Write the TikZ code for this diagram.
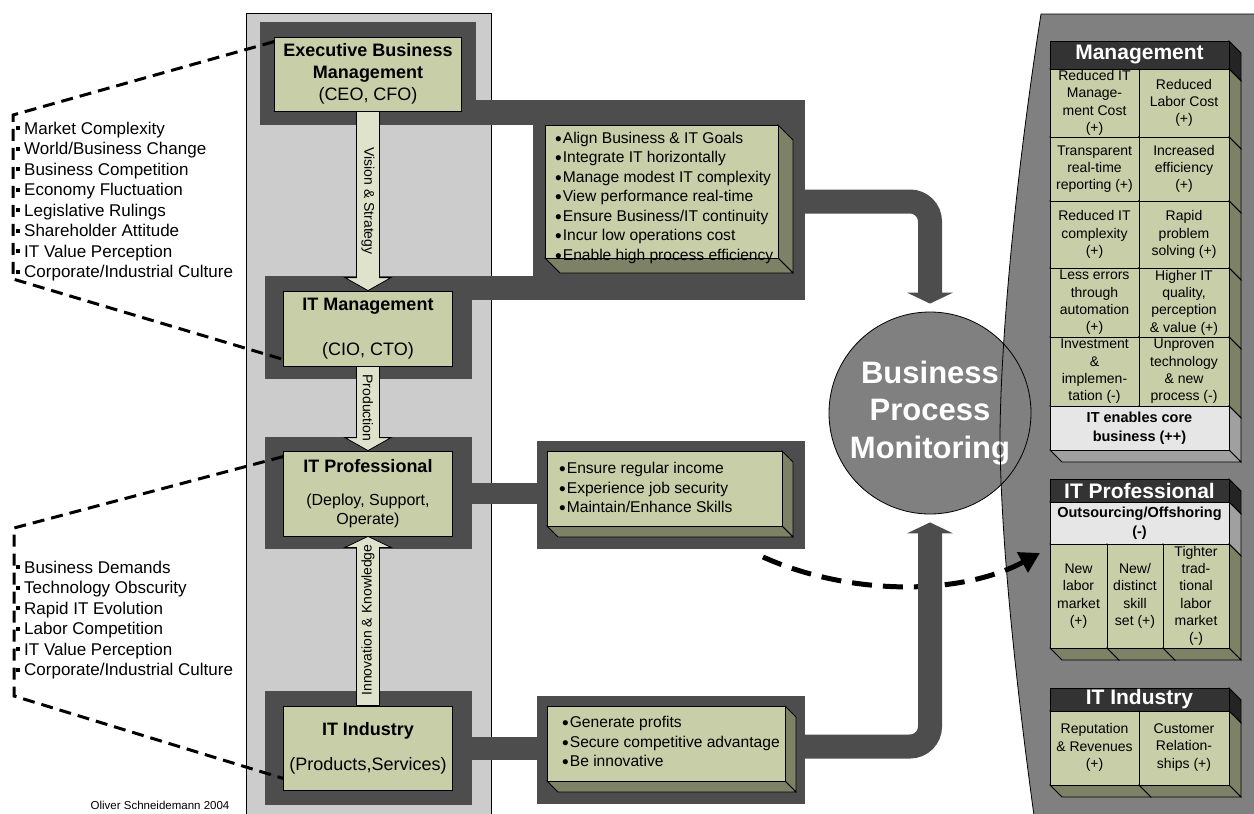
\documentclass[tikz,border=0pt]{standalone}
\usepackage{fontspec}
\setmainfont{Liberation Sans}
\usetikzlibrary{arrows.meta}

\definecolor{panelgray}{RGB}{204,204,204}
\definecolor{framedark}{RGB}{77,77,77}
\definecolor{facegreen}{RGB}{200,206,168}
\definecolor{sidegreen}{RGB}{125,130,103}
\definecolor{arrowfill}{RGB}{223,227,204}
\definecolor{hubgray}{RGB}{128,128,128}
\definecolor{headdark}{RGB}{51,51,51}
\definecolor{headside}{RGB}{36,36,36}
\definecolor{palegray}{RGB}{230,230,230}
\definecolor{paleside}{RGB}{160,160,160}

\newcommand{\fsz}[2]{\fontsize{#1}{#2}\selectfont}
\newcommand{\dotb}{\raisebox{-2pt}{\fsz{19}{15}\textbullet}\hspace{1pt}}
\newcommand{\sqb}{\rule[4pt]{4pt}{4pt}\hspace{4pt}}
% extruded box: x1 y1 x2 y2 depth face-colour side-colour
\newcommand{\slab}[7]{%
  \filldraw[fill=#7,draw=black,line width=0.8pt] (#3,#2) -- (#3+#5,#2+#5) -- (#3+#5,#4+#5) -- (#3,#4) -- cycle;
  \filldraw[fill=#7,draw=black,line width=0.8pt] (#1,#4) -- (#3,#4) -- (#3+#5,#4+#5) -- (#1+#5,#4+#5) -- cycle;
  \filldraw[fill=#6,draw=black,line width=0.8pt] (#1,#2) rectangle (#3,#4);}

\tikzset{
  rolebox/.style={draw=black, line width=0.8pt, fill=facegreen, inner sep=0pt, align=center},
  framebox/.style={fill=framedark, inner sep=0pt},
  linkband/.style={draw=framedark, line width=24pt, line cap=butt},
  flowarrow/.style={draw=black, line width=0.8pt, fill=arrowfill, line join=miter},
  bracket/.style={draw=black, line width=3pt, dash pattern=on 12pt off 7pt, line join=miter},
  listtext/.style={inner sep=0pt, align=left, anchor=west, font=\fsz{17}{20.5}},
  bultext/.style={inner sep=0pt, align=left, anchor=west, font=\fsz{15.6}{19.5}},
  vlabel/.style={inner sep=0pt, font=\fsz{14}{16}},
  headtext/.style={inner sep=0pt, text=white, font=\bfseries\fsz{21}{24}},
  celltext/.style={inner sep=0pt, align=center, font=\fsz{14}{17.3}},
  boldcell/.style={inner sep=0pt, align=center, font=\bfseries\fsz{14.5}{19}},
}

\begin{document}
\begin{tikzpicture}[x=1pt,y=-1pt,line join=miter]
\useasboundingbox (0,0) rectangle (1254,814);
\clip (0,0) rectangle (1254,814);

% grey column behind the four roles
\node[draw=black, line width=0.8pt, fill=panelgray, minimum width=245pt, minimum height=820pt,
      inner sep=0pt, anchor=north west] (column) at (246,13) {};

% grey outcome panel on the right
\fill[hubgray] (1260,14) -- (1041,14) .. controls (1012,200) and (1000,360) .. (1000,440)
   .. controls (1001,560) and (1022,730) .. (1036,830) -- (1260,830) -- cycle;

% dark frames
\node[framebox, minimum width=216pt, minimum height=103pt] (execfr) at (368,73.5) {};
\node[framebox, minimum width=207pt, minimum height=103pt] (itmfr) at (368.5,327.5) {};
\node[framebox, minimum width=207pt, minimum height=112pt] (itpfr) at (368.5,493) {};
\node[framebox, minimum width=207pt, minimum height=114pt] (itifr) at (368.5,748) {};
\node[framebox, minimum width=272pt, minimum height=200pt] (bulAfr) at (669,200) {};
\node[framebox, minimum width=268pt, minimum height=108pt] (bulBfr) at (671,495) {};
\node[framebox, minimum width=268pt, minimum height=108pt] (bulCfr) at (671,750) {};

% dashed transfer towards the IT professional outcomes
\coordinate (arcS) at (763,557);
\coordinate (arcE) at (1040,553);
\draw[line width=5pt, dash pattern=on 20pt off 11pt, -{Triangle[length=20pt,width=22pt]}]
  (arcS) .. controls (850,596) and (960,596) .. (arcE);

% bands joining frames
\draw[linkband, line width=25pt] ([yshift=-39pt]execfr.east) -- ([yshift=87.5pt]bulAfr.west);
\draw[linkband] ([yshift=39.5pt]itmfr.east) -- ([yshift=-88pt]bulAfr.west);
\draw[linkband, line width=21pt] (itpfr.east) -- (itpfr.east -| bulBfr.west);
\draw[linkband, line width=23pt] (itifr.east) -- (itifr.east -| bulCfr.west);

% hub
\node[circle, draw=black, line width=0.8pt, fill=hubgray, minimum size=202pt, inner sep=0pt,
      text=white, font=\bfseries\fsz{31}{37.5}, align=center] (bpm) at (930,413)
      {Business\\Process\\Monitoring};

% thick arrows into the hub
\coordinate (bandA) at (795,201.5);
\coordinate (bandC) at (795,746.5);
\draw[linkband, rounded corners=20pt] (bandA) -- (bandA -| bpm.north) -- ([yshift=18pt]bpm.north);
\fill[framedark] ([xshift=-23pt,yshift=19pt]bpm.north) -- ([xshift=23pt,yshift=19pt]bpm.north)
  -- ([yshift=8pt]bpm.north) -- cycle;
\draw[linkband, rounded corners=20pt] (bandC) -- (bandC -| bpm.south) -- ([yshift=-18pt]bpm.south);
\fill[framedark] ([xshift=-23pt,yshift=-19pt]bpm.south) -- ([xshift=23pt,yshift=-19pt]bpm.south)
  -- ([yshift=-8pt]bpm.south) -- cycle;

% outline of the outcome panel
\draw[line width=0.8pt] (1260,14) -- (1041,14) .. controls (1012,200) and (1000,360) .. (1000,440)
   .. controls (1001,560) and (1022,730) .. (1036,830);

% role boxes
\node[rolebox, minimum width=187pt, minimum height=74pt, font=\fsz{18}{22}] (exec) at (368,74)
  {\textbf{Executive Business}\\\textbf{Management}\\(CEO, CFO)};
\node[rolebox, minimum width=169pt, minimum height=75pt, font=\fsz{18}{21.6}] (itm) at (368,328.5)
  {\textbf{IT Management}\\[23pt](CIO, CTO)};
\node[rolebox, minimum width=169pt, minimum height=85pt, font=\fsz{16}{19}] (itp) at (368,493.5)
  {{\fsz{18}{19}\bfseries IT Professional}\\[14pt](Deploy, Support,\\Operate)};
\node[rolebox, minimum width=169pt, minimum height=84pt, font=\fsz{18}{21.6}] (iti) at (368,748)
  {\textbf{IT Industry}\\[13.4pt](Products,Services)};

% block arrows between roles
\filldraw[flowarrow] ([xshift=-11.5pt]exec.south) -- ([xshift=11.5pt]exec.south)
  -- ([xshift=11.5pt,yshift=13pt]itm.north) -- ([xshift=23pt,yshift=13pt]itm.north) -- (itm.north)
  -- ([xshift=-23pt,yshift=13pt]itm.north) -- ([xshift=-11.5pt,yshift=13pt]itm.north) -- cycle;
\filldraw[flowarrow] ([xshift=-11.5pt]itm.south) -- ([xshift=11.5pt]itm.south)
  -- ([xshift=11.5pt,yshift=13pt]itp.north) -- ([xshift=23pt,yshift=13pt]itp.north) -- (itp.north)
  -- ([xshift=-23pt,yshift=13pt]itp.north) -- ([xshift=-11.5pt,yshift=13pt]itp.north) -- cycle;
\filldraw[flowarrow] ([xshift=-11.5pt]iti.north) -- ([xshift=11.5pt]iti.north)
  -- ([xshift=11.5pt,yshift=-11pt]itp.south) -- ([xshift=23pt,yshift=-11pt]itp.south) -- (itp.south)
  -- ([xshift=-23pt,yshift=-11pt]itp.south) -- ([xshift=-11.5pt,yshift=-11pt]itp.south) -- cycle;
\node[vlabel, rotate=-90] (lblvision) at (368,201) {Vision \& Strategy};
\node[vlabel, rotate=-90] (lblprod) at (368,408) {Production};
\node[vlabel, rotate=90] (lblinno) at (368,620) {Innovation \& Knowledge};

% goal boxes
\slab{545}{125}{778}{258}{15}{facegreen}{sidegreen}
\node[bultext] (goalsA) at (555,197.5) {\dotb Align Business \& IT Goals\\\dotb Integrate IT horizontally\\
  \dotb Manage modest IT complexity\\\dotb View performance real-time\\\dotb Ensure Business/IT continuity\\
  \dotb Incur low operations cost\\\dotb Enable high process efficiency};
\slab{547}{451}{782}{526}{11}{facegreen}{sidegreen}
\node[bultext] (goalsB) at (559,488.5) {\dotb Ensure regular income\\\dotb Experience job security\\
  \dotb Maintain/Enhance Skills};
\slab{547}{706}{785}{781}{11}{facegreen}{sidegreen}
\node[bultext] (goalsC) at (562,742.5) {\dotb Generate profits\\\dotb Secure competitive advantage\\
  \dotb Be innovative};

% influence lists and brackets
\node[listtext] (forcesA) at (16,201.5) {\sqb Market Complexity\\\sqb World/Business Change\\
  \sqb Business Competition\\\sqb Economy Fluctuation\\\sqb Legislative Rulings\\
  \sqb Shareholder Attitude\\\sqb IT Value Perception\\\sqb Corporate/Industrial Culture};
\node[listtext] (forcesB) at (16,620.2) {\sqb Business Demands\\\sqb Technology Obscurity\\
  \sqb Rapid IT Evolution\\\sqb Labor Competition\\\sqb IT Value Perception\\
  \sqb Corporate/Industrial Culture};
\coordinate (brA1) at (13,115);
\coordinate (brA2) at (13,279);
\coordinate (brB1) at (14,528);
\coordinate (brB2) at (14,696);
\draw[bracket] ([yshift=-5pt]exec.north west) -- (brA1) -- (brA2) -- ([yshift=7pt]itm.south west);
\draw[bracket] ([yshift=-6pt]itp.north west) -- (brB1) -- (brB2) -- ([yshift=12pt]iti.south west);

\node[inner sep=0pt, font=\fsz{11.5}{13}] (credit) at (160,805) {Oliver Schneidemann 2004};

% management outcomes
\slab{1050}{41}{1229}{69}{12}{headdark}{headside}
\slab{1050}{69}{1139}{137}{12}{facegreen}{sidegreen}
\slab{1139}{69}{1229}{137}{12}{facegreen}{sidegreen}
\slab{1050}{137}{1139}{201}{12}{facegreen}{sidegreen}
\slab{1139}{137}{1229}{201}{12}{facegreen}{sidegreen}
\slab{1050}{201}{1139}{268}{12}{facegreen}{sidegreen}
\slab{1139}{201}{1229}{268}{12}{facegreen}{sidegreen}
\slab{1050}{268}{1139}{337}{12}{facegreen}{sidegreen}
\slab{1139}{268}{1229}{337}{12}{facegreen}{sidegreen}
\slab{1050}{337}{1139}{406}{12}{facegreen}{sidegreen}
\slab{1139}{337}{1229}{406}{12}{facegreen}{sidegreen}
\slab{1050}{406}{1229}{450}{12}{palegray}{paleside}
\node[headtext] (mgH) at (1139.5,55) {Management};
\node[celltext] (mg11) at (1094.5,103) {Reduced IT\\Manage-\\ment Cost\\(+)};
\node[celltext] (mg12) at (1184,103) {Reduced\\Labor Cost\\(+)};
\node[celltext] (mg21) at (1094.5,169) {Transparent\\real-time\\reporting (+)};
\node[celltext] (mg22) at (1184,169) {Increased\\efficiency\\(+)};
\node[celltext] (mg31) at (1094.5,234.5) {Reduced IT\\complexity\\(+)};
\node[celltext] (mg32) at (1184,234.5) {Rapid\\problem\\solving (+)};
\node[celltext] (mg41) at (1094.5,302.5) {Less errors\\through\\automation\\(+)};
\node[celltext] (mg42) at (1184,302.5) {Higher IT\\quality,\\perception\\\& value (+)};
\node[celltext] (mg51) at (1094.5,371.5) {Investment\\\&\\implemen-\\tation (-)};
\node[celltext] (mg52) at (1184,371.5) {Unproven\\technology\\\& new\\process (-)};
\node[boldcell] (mg6) at (1139.5,428) {IT enables core\\business (++)};

% IT professional outcomes
\slab{1050}{479}{1229}{502}{12}{headdark}{headside}
\slab{1050}{502}{1229}{544}{12}{palegray}{paleside}
\slab{1050}{544}{1107}{648}{12}{facegreen}{sidegreen}
\slab{1107}{544}{1163}{648}{12}{facegreen}{sidegreen}
\slab{1163}{544}{1229}{648}{12}{facegreen}{sidegreen}
\node[headtext] (ipH) at (1139.5,490.5) {IT Professional};
\node[boldcell] (ip0) at (1139.5,523) {Outsourcing/Offshoring\\(-)};
\node[celltext] (ip1) at (1078.5,596) {New\\labor\\market\\(+)};
\node[celltext] (ip2) at (1135,596) {New/\\distinct\\skill\\set (+)};
\node[celltext] (ip3) at (1196,596) {Tighter\\trad-\\tional\\labor\\market\\(-)};

% IT industry outcomes
\slab{1050}{688}{1229}{711}{12}{headdark}{headside}
\slab{1050}{711}{1139}{785}{12}{facegreen}{sidegreen}
\slab{1139}{711}{1229}{785}{12}{facegreen}{sidegreen}
\node[headtext] (iiH) at (1139.5,699.5) {IT Industry};
\node[celltext] (ii1) at (1094.5,747.5) {Reputation\\\& Revenues\\(+)};
\node[celltext] (ii2) at (1184,747.5) {Customer\\Relation-\\ships (+)};
\end{tikzpicture}
\end{document}
